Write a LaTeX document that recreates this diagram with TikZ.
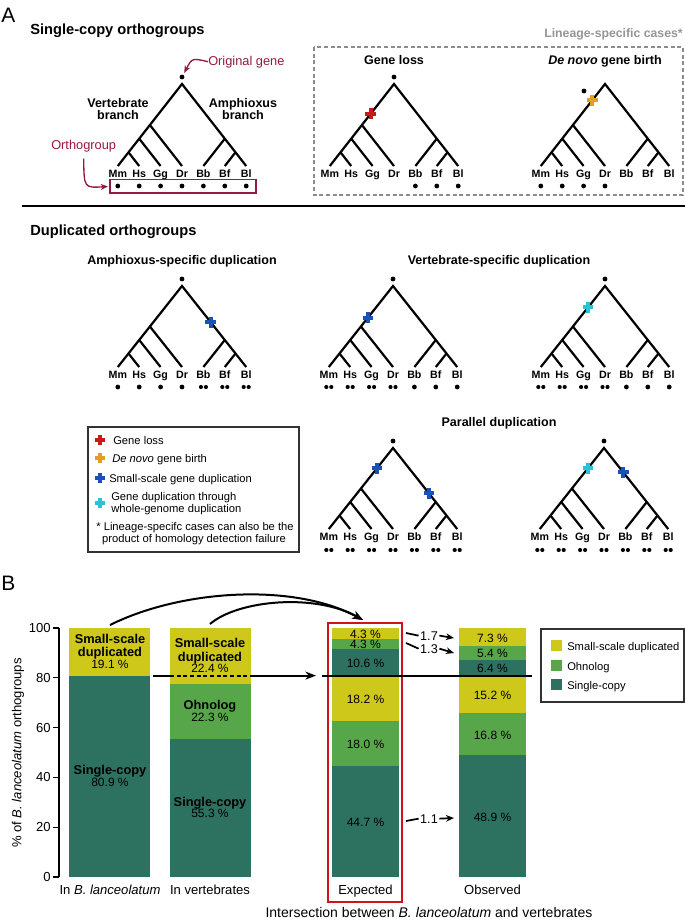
\documentclass[tikz,border=0pt]{standalone}
\usepackage{fontspec}
\setmainfont{Liberation Sans}
\usetikzlibrary{arrows.meta,calc}
\definecolor{cmaroon}{RGB}{150,25,65}
\definecolor{cred}{RGB}{200,25,25}
\definecolor{cboxred}{RGB}{205,20,25}
\definecolor{corange}{RGB}{225,160,35}
\definecolor{cblue}{RGB}{25,80,185}
\definecolor{ccyan}{RGB}{40,195,215}
\definecolor{cyel}{RGB}{205,200,25}
\definecolor{cltg}{RGB}{88,166,74}
\definecolor{cdkg}{RGB}{45,113,96}
\definecolor{cgray}{RGB}{140,140,140}
\definecolor{cgraytext}{RGB}{150,150,150}
\definecolor{cdkgray}{RGB}{50,50,50}
\newcommand{\dd}{21.4}
\newcommand{\Yv}[1]{877-2.49*(#1)}
\tikzset{
 branch/.style={line width=1.65pt, line cap=butt, line join=miter},
 leaf/.style={font=\fontsize{8}{9}\selectfont\bfseries, anchor=base, inner sep=0pt},
 gdot/.style={circle, fill=black, inner sep=0pt, minimum size=3.6pt},
 gdot2/.style={circle, fill=black, inner sep=0pt, minimum size=3.1pt},
 sectitle/.style={font=\fontsize{11}{13}\selectfont\bfseries, anchor=base west, inner sep=0pt},
 subtitle/.style={font=\fontsize{9.4}{11}\selectfont\bfseries, anchor=base, inner sep=0pt},
 panel/.style={font=\fontsize{15.7}{18}\selectfont, anchor=base west, inner sep=0pt},
 legtext/.style={font=\fontsize{8.4}{10}\selectfont, anchor=base west, inner sep=0pt},
 maroontext/.style={font=\fontsize{9.6}{11}\selectfont, text=cmaroon, anchor=base west, inner sep=0pt},
 barbold/.style={font=\fontsize{9.6}{11}\selectfont\bfseries, anchor=base, inner sep=0pt},
 barnum/.style={font=\fontsize{9}{11}\selectfont, anchor=base, inner sep=0pt},
 axistext/.style={font=\fontsize{9.8}{12}\selectfont, inner sep=0pt},
 ratiotext/.style={font=\fontsize{9.5}{11}\selectfont, anchor=base, inner sep=1pt},
 marr/.style={cmaroon, line width=1pt, -{Stealth[length=5.5pt,width=4.5pt]}},
 barr/.style={line width=1.5pt, -{Stealth[length=8pt,width=6pt]}},
 sarr/.style={line width=1.3pt, -{Stealth[length=6pt,width=5pt]}},
 xcross/.pic={\fill (-5.4,-2) rectangle (5.4,2); \fill (-2,-5.4) rectangle (2,5.4);}
}
% #1 name, #2 centre x, #3 apex y, #4 leaf y
\newcommand{\phylo}[4]{%
 \coordinate (#1-top) at (#2,#3);
 \coordinate (#1-Mm) at ({#2-3*\dd},#4);
 \coordinate (#1-Hs) at ({#2-2*\dd},#4);
 \coordinate (#1-Gg) at ({#2-\dd},#4);
 \coordinate (#1-Dr) at (#2,#4);
 \coordinate (#1-Bb) at ({#2+\dd},#4);
 \coordinate (#1-Bf) at ({#2+2*\dd},#4);
 \coordinate (#1-Bl) at ({#2+3*\dd},#4);
 \coordinate (#1-vD) at ({#2-1.5*\dd},{(#3+#4)/2});
 \coordinate (#1-vG) at ({#2-2*\dd},{#4-(#4-#3)/3});
 \coordinate (#1-vH) at ({#2-2.5*\dd},{#4-(#4-#3)/6});
 \coordinate (#1-aB) at ({#2+2*\dd},{#4-(#4-#3)/3});
 \coordinate (#1-aF) at ({#2+2.5*\dd},{#4-(#4-#3)/6});
 \draw[branch] (#1-Mm) -- (#1-top) -- (#1-Bl);
 \draw[branch] (#1-Dr) -- (#1-vD) (#1-Gg) -- (#1-vG) (#1-Hs) -- (#1-vH)
   (#1-Bb) -- (#1-aB) (#1-Bf) -- (#1-aF);
 \foreach \lf/\kk in {Mm/-3,Hs/-2,Gg/-1,Dr/0,Bb/1,Bf/2,Bl/3}
   {\node[leaf] (#1-l\lf) at ({#2+\kk*\dd},{#4+11.5}) {\lf};}
}
% #1 name, #2 centre x, #3 y, #4 list of 0/1/2
\newcommand{\leafdots}[4]{%
 \foreach \dotn [count=\doti] in {#4}{%
  \ifnum\dotn=1\relax \node[gdot] (#1-d\doti) at ({#2+(\doti-4)*\dd},#3) {};\fi
  \ifnum\dotn=2\relax \node[gdot2] (#1-d\doti-a) at ({#2+(\doti-4)*\dd-2.5},#3) {};
    \node[gdot2] (#1-d\doti-b) at ({#2+(\doti-4)*\dd+2.5},#3) {};\fi
 }}
\newcommand{\bseg}[5]{\fill[#5] (#1,{\Yv{#3}}) rectangle (#2,{\Yv{#4}});}

\begin{document}
\begin{tikzpicture}[x=0.75pt,y=-0.75pt]
\useasboundingbox (0,0) rectangle (685,921);
\fill[white] (0,0) rectangle (685,921);

%================ PANEL A =================
\node[panel] (lblA) at (1,22) {A};
\node[sectitle] (ttlSC) at (30,34) {Single-copy orthogroups};

% single-copy tree
\phylo{t1}{182}{84}{166}
\node[gdot] (t1-root) at (182,77) {};
\leafdots{t1}{182}{186}{1,1,1,1,1,1,1}
\node[maroontext] (og) at (208,65) {Original gene};
\draw[marr, shorten >=1.5pt] (og.west) .. controls (192,58) .. (t1-root);
\node[subtitle] (vb1) at (118,107) {Vertebrate};
\node[subtitle] (vb2) at (118,119) {branch};
\node[subtitle] (ab1) at (243,107) {Amphioxus};
\node[subtitle] (ab2) at (243,119) {branch};
\node[maroontext] (orth) at (51,149) {Orthogroup};
\draw[cmaroon, line width=1.1pt] (110,179.5) rectangle (256,193);
\coordinate (ogw) at (108,186.5);
\draw[marr, shorten <=5pt] (orth.south) .. controls (84,188) .. (ogw);

% lineage-specific box
\draw[cgray, line width=0.8pt, dash pattern=on 3pt off 2pt] (314,47) rectangle (683,195);
\node[font=\fontsize{9.2}{11}\selectfont\bfseries, text=cgraytext, anchor=base east, inner sep=0pt] (lsc) at (683,37) {Lineage-specific cases*};

\node[subtitle] (glt) at (394,64) {Gene loss};
\phylo{gl}{394}{84}{166}
\node[gdot] (gl-root) at (394,77) {};
\leafdots{gl}{394}{186}{0,0,0,0,1,1,1}
\pic[cred] at ($(gl-top)!0.36!(gl-Mm)$) {xcross};

\node[subtitle] (dnt) at (605,64) {\textit{De novo} gene birth};
\phylo{dn}{605}{84}{166}
\node[gdot] (dn-root) at (584,91) {};
\leafdots{dn}{605}{186}{1,1,1,1,0,0,0}
\pic[corange] at ($(dn-top)!0.2!(dn-Mm)$) {xcross};

% separator
\draw[line width=2pt] (22,206) -- (685,206);

% duplicated orthogroups
\node[sectitle] (ttlD) at (30,235) {Duplicated orthogroups};
\node[subtitle] (amt) at (182,264) {Amphioxus-specific duplication};
\node[subtitle] (vst) at (499,264) {Vertebrate-specific duplication};

\phylo{am}{182}{286}{367}
\node[gdot] (am-root) at (182,279) {};
\leafdots{am}{182}{387}{1,1,1,1,2,2,2}
\pic[cblue] at ($(am-top)!0.45!(am-Bl)$) {xcross};

\phylo{vs}{393}{286}{367}
\node[gdot] (vs-root) at (393,279) {};
\leafdots{vs}{393}{387}{2,2,2,2,1,1,1}
\pic[cblue] at ($(vs-top)!0.39!(vs-Mm)$) {xcross};

\phylo{vw}{605}{286}{367}
\node[gdot] (vw-root) at (605,279) {};
\leafdots{vw}{605}{387}{2,2,2,2,1,1,1}
\pic[ccyan] at ($(vw-top)!0.265!(vw-Mm)$) {xcross};

\node[subtitle] (pdt) at (499,426) {Parallel duplication};
\phylo{pa}{393}{448}{529}
\node[gdot] (pa-root) at (393,441) {};
\leafdots{pa}{393}{550}{2,2,2,2,2,2,2}
\pic[cblue] at ($(pa-top)!0.25!(pa-Mm)$) {xcross};
\pic[cblue] at ($(pa-top)!0.56!(pa-Bl)$) {xcross};

\phylo{pb}{604}{448}{529}
\node[gdot] (pb-root) at (604,441) {};
\leafdots{pb}{604}{550}{2,2,2,2,2,2,2}
\pic[ccyan] at ($(pb-top)!0.25!(pb-Mm)$) {xcross};
\pic[cblue] at ($(pb-top)!0.3!(pb-Bl)$) {xcross};

% legend A
\draw[cdkgray, line width=1pt] (88,427) rectangle (299,552);
\pic[cred] at (100,440) {xcross};
\pic[corange] at (100,458) {xcross};
\pic[cblue] at (100,478) {xcross};
\pic[ccyan] at (100,503) {xcross};
\node[legtext] (lg1) at (113,444) {Gene loss};
\node[legtext] (lg2) at (112,462) {\textit{De novo} gene birth};
\node[legtext] (lg3) at (109,482) {Small-scale gene duplication};
\node[legtext] (lg4a) at (111,500) {Gene duplication through};
\node[legtext] (lg4b) at (111,512) {whole-genome duplication};
\node[legtext, anchor=base] (lg5a) at (195,530) {* Lineage-specifc cases can also be the};
\node[legtext, anchor=base] (lg5b) at (194,542) {product of homology detection failure};

%================ PANEL B =================
\node[panel] (lblB) at (1,590) {B};

% axis
\draw[line width=0.9pt] (59,628) -- (59,877);
\foreach \v in {0,20,40,60,80,100}{
  \draw[line width=0.9pt] (53,{\Yv{\v}}) -- (59,{\Yv{\v}});
  \node[axistext, anchor=east] (tk\v) at (51,{\Yv{\v}}) {\v};
}
\node[axistext, rotate=90] (ylab) at (18,753) {\% of \textit{B. lanceolatum} orthogroups};

% bars
\bseg{69}{150}{0}{80.9}{cdkg}
\bseg{69}{150}{80.9}{100}{cyel}
\bseg{170}{251}{0}{55.3}{cdkg}
\bseg{170}{251}{55.3}{77.6}{cltg}
\bseg{170}{251}{77.6}{100}{cyel}
\bseg{332}{399}{0}{44.7}{cdkg}
\bseg{332}{399}{44.7}{62.7}{cltg}
\bseg{332}{399}{62.7}{80.9}{cyel}
\bseg{332}{399}{80.9}{91.4}{cdkg}
\bseg{332}{399}{91.4}{95.7}{cltg}
\bseg{332}{399}{95.7}{100}{cyel}
\bseg{459}{526}{0}{48.9}{cdkg}
\bseg{459}{526}{48.9}{65.7}{cltg}
\bseg{459}{526}{65.7}{80.9}{cyel}
\bseg{459}{526}{80.9}{87.3}{cdkg}
\bseg{459}{526}{87.3}{92.7}{cltg}
\bseg{459}{526}{92.7}{100}{cyel}
\draw[cboxred, line width=1.7pt] (328,623) rectangle (402,902);

% bar labels
\node[barbold] (b1a) at (110,643) {Small-scale};
\node[barbold] (b1b) at (110,656) {duplicated};
\node[barnum] (b1c) at (110,668) {19.1 \%};
\node[barbold] (b1d) at (110,774) {Single-copy};
\node[barnum] (b1e) at (110,786) {80.9 \%};
\node[barbold] (b2a) at (210,647) {Small-scale};
\node[barbold] (b2b) at (210,661) {duplicated};
\node[barnum] (b2c) at (210,672) {22.4 \%};
\node[barbold] (b2d) at (210,709) {Ohnolog};
\node[barnum] (b2e) at (210,721) {22.3 \%};
\node[barbold] (b2f) at (210,806) {Single-copy};
\node[barnum] (b2g) at (210,817) {55.3 \%};

\node[barnum] (e1) at (365.5,638) {4.3 \%};
\node[barnum] (e2) at (365.5,648) {4.3 \%};
\node[barnum] (e3) at (365.5,667) {10.6 \%};
\node[barnum] (e4) at (365.5,703) {18.2 \%};
\node[barnum] (e5) at (365.5,748) {18.0 \%};
\node[barnum] (e6) at (365.5,826) {44.7 \%};
\node[barnum] (o1) at (492.5,642) {7.3 \%};
\node[barnum] (o2) at (492.5,657) {5.4 \%};
\node[barnum] (o3) at (492.5,672) {6.4 \%};
\node[barnum] (o4) at (492.5,699) {15.2 \%};
\node[barnum] (o5) at (492.5,739) {16.8 \%};
\node[barnum] (o6) at (492.5,821) {48.9 \%};

% 80.9 line
\coordinate (hlA) at (153,675.6);
\coordinate (hlB) at (170,675.6);
\coordinate (hlC) at (251,675.6);
\coordinate (hlD) at (316,675.6);
\draw[line width=1.5pt] (hlA) -- (hlB);
\draw[line width=1.5pt, dash pattern=on 3pt off 2pt] (hlB) -- (hlC);
\draw[barr] (hlC) -- (hlD);
\coordinate (hlE) at (322,675.6);
\coordinate (hlF) at (532,675.6);
\draw[line width=1.5pt] (hlE) -- (hlF);

% curved arrows
\coordinate (b1top) at (110,625);
\coordinate (b2top) at (210,624);
\coordinate (exptop) at (363,620);
\draw[barr] (b1top) .. controls (180,590) and (293,582) .. (exptop);
\draw[barr] (b2top) .. controls (238,600) and (315,593) .. (exptop);

% ratio arrows
\node[ratiotext] (r17) at (429,640) {1.7};
\node[ratiotext] (r13) at (429,653) {1.3};
\node[ratiotext] (r11) at (429,823) {1.1};
\coordinate (s17) at (406,633);
\coordinate (s13) at (406,643);
\coordinate (s11) at (406,821);
\coordinate (t17) at (454,638);
\coordinate (t13) at (454,653);
\coordinate (t11) at (454,818);
\draw[line width=1.3pt] (s17) -- (r17.west);
\draw[line width=1.3pt] (s13) -- (r13.west);
\draw[line width=1.3pt] (s11) -- (r11.west);
\draw[sarr] (r17.east) -- (t17);
\draw[sarr] (r13.east) -- (t13);
\draw[sarr] (r11.east) -- (t11);

% x labels
\node[axistext, anchor=base] (x1) at (110,894) {In \textit{B. lanceolatum}};
\node[axistext, anchor=base] (x2) at (210,894) {In vertebrates};
\node[axistext, anchor=base] (x3) at (365.5,894) {Expected};
\node[axistext, anchor=base] (x4) at (492.5,894) {Observed};
\node[font=\fontsize{10.5}{12}\selectfont, anchor=base, inner sep=0pt] (x5) at (429,917) {Intersection between \textit{B. lanceolatum} and vertebrates};

% legend B
\draw[cdkgray, line width=1pt] (541,629) rectangle (684,702);
\fill[cyel] (551,640) rectangle (562,651);
\fill[cltg] (551,660) rectangle (562,671);
\fill[cdkg] (551,679) rectangle (562,690);
\node[legtext] (lb1) at (567,650) {Small-scale duplicated};
\node[legtext] (lb2) at (567,670) {Ohnolog};
\node[legtext] (lb3) at (567,689) {Single-copy};
\end{tikzpicture}
\end{document}
